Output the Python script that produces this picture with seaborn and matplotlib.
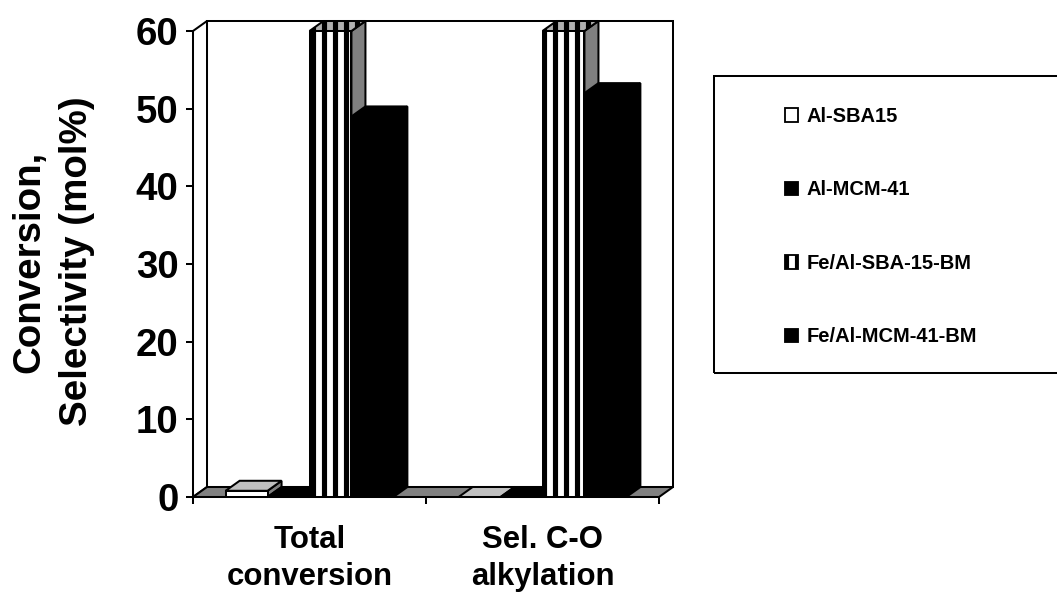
import numpy as np
import pandas as pd
import seaborn as sns
import matplotlib
matplotlib.use("Agg")
import matplotlib.pyplot as plt
from matplotlib.patches import Polygon, Rectangle, Patch

# ---- data -------------------------------------------------------------
categories = ["Total\nconversion", "Sel. C-O\nalkylation"]
catalysts = ["Al-SBA15", "Al-MCM-41", "Fe/Al-SBA-15-BM", "Fe/Al-MCM-41-BM"]
al_sba15 = [0.8, 0.0]
al_mcm41 = [0.0, 0.0]
fe_al_sba15_bm = [60.0, 60.0]
fe_al_mcm41_bm = [49.0, 52.0]
y_ticks = [0, 10, 20, 30, 40, 50, 60]
y_label = "Conversion,\nSelectivity (mol%)"

series = [al_sba15, al_mcm41, fe_al_sba15_bm, fe_al_mcm41_bm]
df = pd.DataFrame({
    "category": [c for _ in catalysts for c in categories],
    "catalyst": [k for k in catalysts for _ in categories],
    "value": [v for s in series for v in s],
})

# ---- style ------------------------------------------------------------
DPI = 132
W, H = 1057, 592
sns.set_style("ticks")
plt.rcParams["font.family"] = ["Liberation Sans", "DejaVu Sans"]
plt.rcParams["font.weight"] = "bold"
plt.rcParams["text.color"] = "black"
plt.rcParams["axes.labelcolor"] = "black"
plt.rcParams["xtick.color"] = "black"
plt.rcParams["ytick.color"] = "black"
plt.rcParams["hatch.linewidth"] = 2.8
plt.rcParams["hatch.color"] = "black"

# front, top and side shading of each series, plus fill pattern
styles = [
    dict(front="white", top="#c0c0c0", side="#808080", hatch=None),
    dict(front="black", top="black", side="black", hatch=None),
    dict(front="white", top="#b0b0b0", side="#808080", hatch="||"),
    dict(front="black", top="black", side="black", hatch=None),
]

fig = plt.figure(figsize=(W / DPI, H / DPI), dpi=DPI)
ax = fig.add_axes([193 / W, 95 / H, 466 / W, 466 / H])
ax.set_facecolor("none")

sns.barplot(data=df, x="category", y="value", hue="catalyst",
            order=categories, hue_order=catalysts,
            palette=[s["front"] for s in styles], width=0.72, saturation=1,
            errorbar=None, edgecolor="black", linewidth=1.1, legend=False, ax=ax)

ax.set_xlim(-0.5, 1.5)
ax.set_ylim(0, 60)

# ---- pseudo-3D box: depth offset in data units -------------------------
DX, DY = 0.0601, 1.2876
x0, x1 = -0.5, 1.5
ymax = 60
ax.add_patch(Rectangle((x0 + DX, DY), x1 - x0, ymax, fc="white", ec="black",
                       lw=1.1, zorder=0.5, clip_on=False))
ax.add_patch(Polygon([(x0, 0), (x0 + DX, DY), (x0 + DX, ymax + DY), (x0, ymax)],
                     closed=True, fc="white", ec="black", lw=1.1, zorder=0.6,
                     clip_on=False))
ax.add_patch(Polygon([(x0, 0), (x1, 0), (x1 + DX, DY), (x0 + DX, DY)],
                     closed=True, fc="#808080", ec="black", lw=1.1, zorder=0.7,
                     clip_on=False))

# top and side faces for every bar, painted left to right
bars = []
for i, cont in enumerate(ax.containers):
    for bar in cont:
        bars.append((bar.get_x(), i, bar))
bars.sort(key=lambda t: t[0])
for k, (_, i, bar) in enumerate(bars):
    st = styles[i]
    bx0 = bar.get_x()
    bx1 = bx0 + bar.get_width()
    h = bar.get_height()
    base = 2 + 3 * k
    side = Polygon([(bx1, 0), (bx1 + DX, DY), (bx1 + DX, h + DY), (bx1, h)],
                   closed=True, fc=st["side"], ec="black", lw=1.1,
                   zorder=base, clip_on=False)
    top = Polygon([(bx0, h), (bx1, h), (bx1 + DX, h + DY), (bx0 + DX, h + DY)],
                  closed=True, fc=st["top"], ec="black", lw=1.1,
                  zorder=base + 1, clip_on=False, hatch=st["hatch"])
    ax.add_patch(side)
    ax.add_patch(top)
    bar.set_zorder(base + 2)
    if st["hatch"]:
        bar.set_hatch(st["hatch"])

# ---- axes -------------------------------------------------------------
for s in ("top", "right"):
    ax.spines[s].set_visible(False)
for s in ("left", "bottom"):
    ax.spines[s].set_linewidth(1.1)
    ax.spines[s].set_color("black")

ax.set_yticks(y_ticks)
ax.tick_params(axis="y", direction="out", length=3.8, width=1.1, pad=4.0,
               labelsize=21, left=True, color="black", labelcolor="black")
ax.set_xticks([0, 1])
ax.set_xticklabels(categories)
ax.set_xticks([-0.5, 0.5, 1.5], minor=True)
ax.tick_params(axis="x", which="major", length=0, pad=15, labelsize=17,
               labelcolor="black")
ax.tick_params(axis="x", which="minor", length=3.8, width=1.1,
               direction="out", bottom=True, color="black")
for t in ax.get_xticklabels():
    t.set_linespacing(1.32)
for t in ax.get_xticklabels() + ax.get_yticklabels():
    t.set_fontweight("bold")

ax.set_xlabel("")
ax.set_ylabel(y_label, fontsize=21, fontweight="bold", va="center",
              linespacing=1.4, color="black")
ax.yaxis.set_label_coords(-0.30, 0.505)

# ---- legend -----------------------------------------------------------
handles = [Patch(fc=st["front"], ec="black", lw=1.0, hatch=st["hatch"])
           for st in styles]
leg = ax.legend(handles, catalysts, loc="upper left",
                bbox_to_anchor=(785 / W, 1 - 107 / H),
                bbox_transform=fig.transFigure,
                frameon=False, prop=dict(weight="bold", size=11),
                handlelength=0.65, handleheight=0.65, handletextpad=0.4,
                labelspacing=2.7, borderpad=0, borderaxespad=0)
for t in leg.get_texts():
    t.set_color("black")
fig.add_artist(Rectangle((714 / W, 1 - 373 / H), (1100 - 714) / W, (373 - 76) / H,
                         transform=fig.transFigure, fill=False, ec="black",
                         lw=1.1))

fig.savefig("out.png", dpi=DPI)
